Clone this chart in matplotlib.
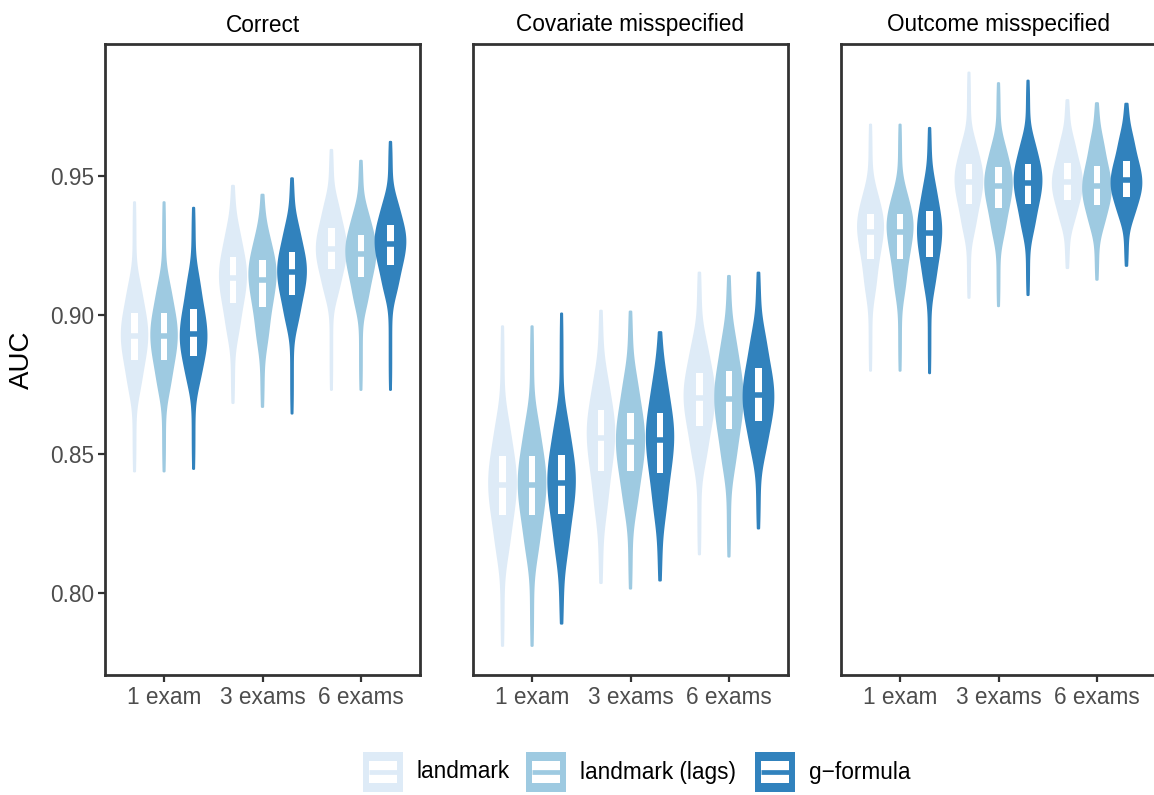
import numpy as np
import matplotlib
matplotlib.use("Agg")
import matplotlib.pyplot as plt
from matplotlib.patches import Rectangle

plt.rcParams['font.family'] = ['Liberation Sans', 'DejaVu Sans']

panels = ["Correct", "Covariate misspecified", "Outcome misspecified"]
exams = ["1 exam", "3 exams", "6 exams"]
methods = ["landmark", "landmark (lags)", "g\u2212formula"]
colors = ["#deebf7", "#9ecae1", "#3182bd"]

# AUC summaries, [panel][exam][method]
auc_min = [
    [[.8437, .8437, .8446], [.8683, .8669, .8645], [.8730, .8730, .8730]],
    [[.7810, .7810, .7890], [.8036, .8016, .8045], [.8139, .8131, .8232]],
    [[.8799, .8799, .8790], [.9061, .9031, .9071], [.9168, .9126, .9176]],
]
auc_p05 = [
    [[.8712, .8712, .8739], [.8914, .8884, .8954], [.9056, .9020, .9065]],
    [[.8121, .8121, .8119], [.8268, .8283, .8263], [.8455, .8432, .8483]],
    [[.9065, .9065, .9083], [.9286, .9270, .9287], [.9320, .9302, .9337]],
]
auc_q1 = [
    [[.8837, .8837, .8853], [.9042, .9027, .9071], [.9163, .9137, .9177]],
    [[.8279, .8279, .8282], [.8439, .8437, .8431], [.8600, .8588, .8617]],
    [[.9202, .9202, .9208], [.9398, .9384, .9398], [.9412, .9396, .9423]],
]
auc_med = [
    [[.8924, .8924, .8932], [.9131, .9126, .9152], [.9237, .9218, .9255]],
    [[.8389, .8389, .8395], [.8558, .8544, .8548], [.8701, .8696, .8710]],
    [[.9297, .9297, .9295], [.9476, .9463, .9475], [.9476, .9461, .9483]],
]
auc_q3 = [
    [[.9007, .9007, .9022], [.9209, .9197, .9227], [.9311, .9286, .9323]],
    [[.8492, .8492, .8497], [.8656, .8646, .8648], [.8792, .8796, .8808]],
    [[.9362, .9362, .9374], [.9542, .9530, .9542], [.9544, .9536, .9553]],
]
auc_p95 = [
    [[.9127, .9127, .9152], [.9321, .9299, .9335], [.9418, .9384, .9421]],
    [[.8640, .8640, .8644], [.8797, .8793, .8792], [.8923, .8940, .8949]],
    [[.9456, .9456, .9488], [.9637, .9626, .9638], [.9642, .9644, .9654]],
]
auc_max = [
    [[.9404, .9404, .9384], [.9463, .9431, .9490], [.9592, .9553, .9621]],
    [[.8958, .8958, .9004], [.9014, .9011, .8937], [.9151, .9139, .9151]],
    [[.9683, .9683, .9671], [.9870, .9832, .9841], [.9771, .9760, .9758]],
]

probs = np.array([0, .05, .25, .5, .75, .95, 1])


def violin_density(knots, n=1000, npts=256):
    # kernel density of the quantile curve, trimmed to the data range
    p = (np.arange(n) + 0.5) / n
    s = np.interp(p, probs, knots)
    iqr = knots[4] - knots[2]
    bw = 0.9 * min(s.std(), iqr / 1.34) * n ** -0.2 * 1.9
    y = np.linspace(knots[0], knots[-1], npts)
    d = np.exp(-0.5 * ((y[:, None] - s[None, :]) / bw) ** 2).sum(1)
    return y, d / (n * bw * np.sqrt(2 * np.pi))


W, H = 1154, 795
fig = plt.figure(figsize=(W / 100, H / 100), dpi=100)
lefts = [105, 473, 841]
edge = "#333333"
tickcol = "#4d4d4d"
fs = 16.3

for pi, title in enumerate(panels):
    ax = fig.add_axes([lefts[pi] / W, 120 / H, 315 / W, 631 / H])
    dens = {}
    for ei in range(3):
        for mi in range(3):
            knots = [auc_min[pi][ei][mi], auc_p05[pi][ei][mi], auc_q1[pi][ei][mi],
                     auc_med[pi][ei][mi], auc_q3[pi][ei][mi], auc_p95[pi][ei][mi],
                     auc_max[pi][ei][mi]]
            dens[ei, mi] = violin_density(knots)
    dmax = max(d.max() for _, d in dens.values())

    for (ei, mi), (y, d) in dens.items():
        xc = ei + 1 + (mi - 1) * 0.3
        w = 0.15 * d / dmax
        col = colors[mi]
        ax.fill(np.r_[xc - w, (xc + w)[::-1]], np.r_[y, y[::-1]],
                fc=col, ec=col, lw=1.6, joinstyle='round', zorder=2)
        bw = 0.064
        q1, md, q3 = auc_q1[pi][ei][mi], auc_med[pi][ei][mi], auc_q3[pi][ei][mi]
        ax.add_patch(Rectangle((xc - bw / 2, q1), bw, q3 - q1, fc='white', ec='none', zorder=3))
        ax.plot([xc - bw / 2, xc + bw / 2], [md, md], color=col, lw=4.0,
                solid_capstyle='butt', zorder=4)

    ax.set_xlim(0.4, 3.6)
    ax.set_ylim(0.7705, 0.9973)
    ax.set_xticks([1, 2, 3])
    ax.set_xticklabels(exams)
    ax.set_yticks([0.80, 0.85, 0.90, 0.95])
    ax.set_yticklabels(["0.80", "0.85", "0.90", "0.95"])
    ax.tick_params(direction='out', length=5, width=1.6, color=edge,
                   labelcolor=tickcol, labelsize=fs, pad=3)
    if pi > 0:
        ax.tick_params(axis='y', left=False, labelleft=False)
    for sp in ax.spines.values():
        sp.set_color(edge)
        sp.set_linewidth(2.0)
    ax.set_title(title, fontsize=fs, color='black', pad=9)

fig.text(22 / W, 1 - 360 / H, "AUC", rotation=90, ha='center', va='center',
         fontsize=20, color='black')

# legend
lg = fig.add_axes([0, 0, 1, 120 / H])
lg.set_xlim(0, W)
lg.set_ylim(795, 675)
lg.axis('off')
key_x = [363, 526, 755]
for mi, name in enumerate(methods):
    kx = key_x[mi]
    lg.add_patch(Rectangle((kx, 752), 40, 40, fc=colors[mi], ec='none'))
    lg.add_patch(Rectangle((kx + 6, 761), 28, 22, fc='white', ec='none'))
    lg.plot([kx + 6, kx + 34], [772, 772], color=colors[mi], lw=3.4, solid_capstyle='butt')
    lg.text(kx + 54, 772, name, ha='left', va='center', fontsize=fs, color='black')

fig.savefig("out.png", dpi=100)
